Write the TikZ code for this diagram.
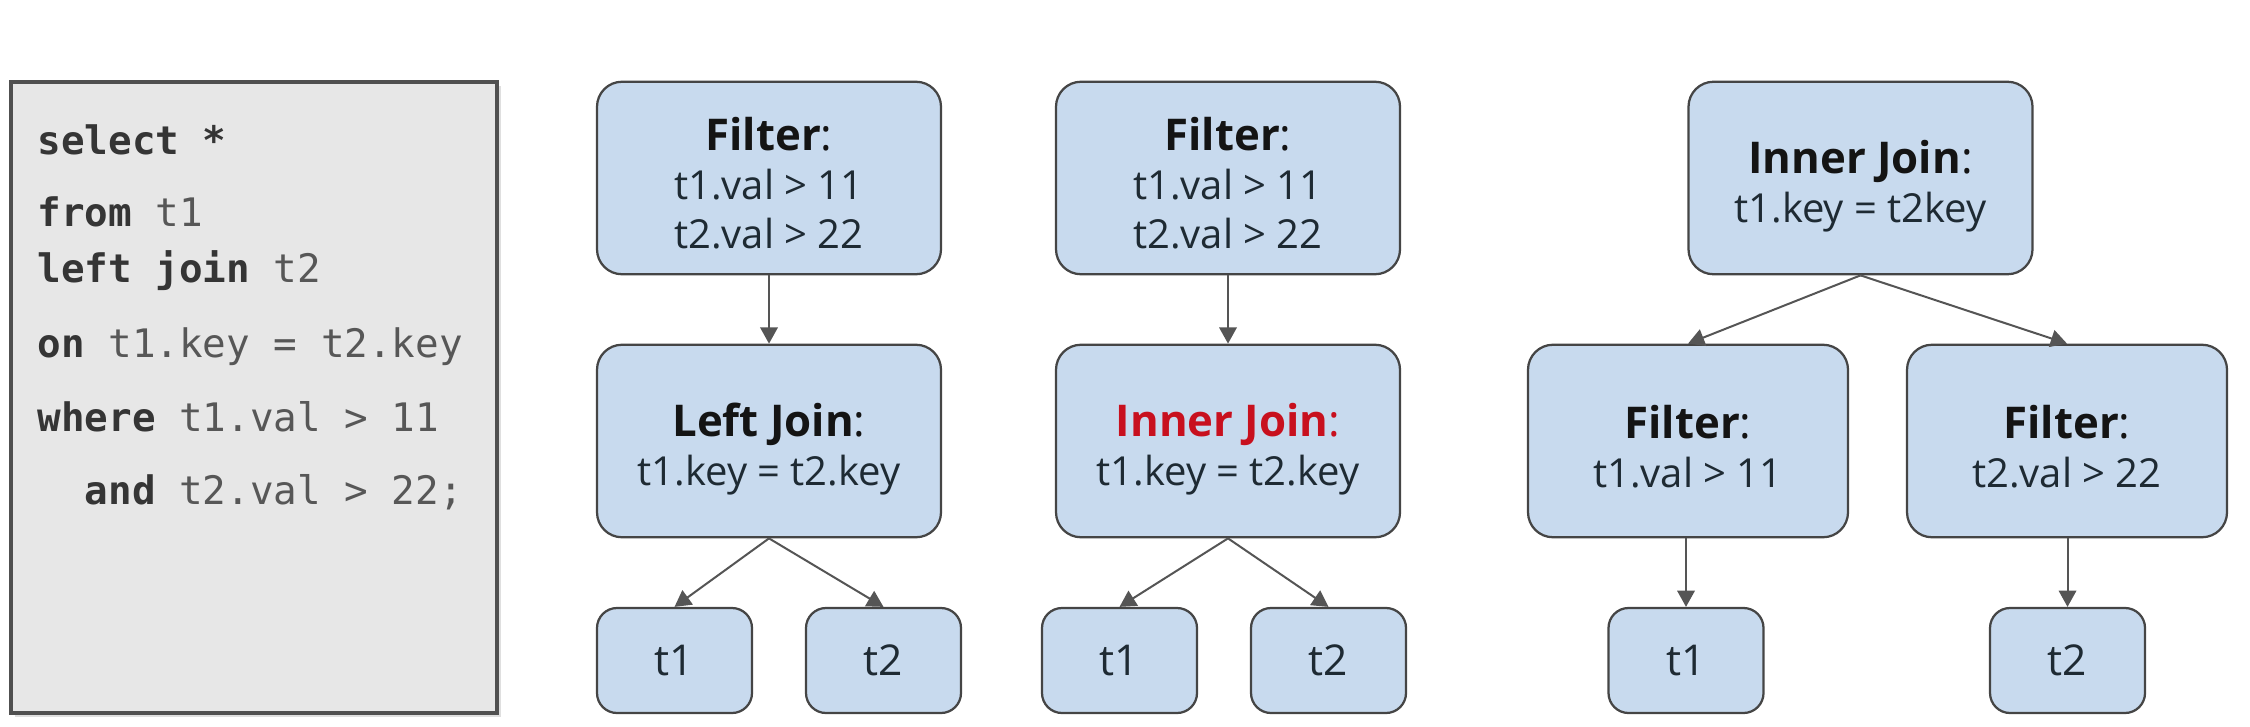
\documentclass[tikz,border=0pt]{standalone}
\usepackage{fontspec}
\setmainfont{Open Sans}
\newfontfamily\codefont{DejaVu Sans Mono}
\usetikzlibrary{arrows.meta,shadows}
\definecolor{boxfill}{HTML}{C8DAEE}
\definecolor{boxline}{HTML}{454545}
\definecolor{arrowcol}{HTML}{555555}
\definecolor{codefill}{HTML}{E7E7E7}
\definecolor{codeline}{HTML}{505050}
\definecolor{kwcol}{HTML}{353535}
\definecolor{idcol}{HTML}{575757}
\definecolor{redtxt}{HTML}{C8101E}
\definecolor{txtcol}{HTML}{1E2A33}
\definecolor{hdcol}{HTML}{141414}
\newcommand{\kw}[1]{{\bfseries\color{kwcol}#1}}
\newcommand{\hd}[1]{{\bfseries\fontsize{17.5}{19.6}\selectfont #1}{\fontsize{17.5}{19.6}\selectfont :}}
\tikzset{
  opbox/.style={draw=boxline, fill=boxfill, line width=0.9pt, rounded corners=10pt,
    minimum width=137.6pt, minimum height=77pt, inner sep=0pt},
  widebox/.style={opbox, minimum width=128pt},
  leafbox/.style={opbox, minimum width=62pt, minimum height=42pt, rounded corners=8pt,
    align=center, text=txtcol, font=\fontsize{17}{19.6}\selectfont},
  optext/.style={align=center, inner sep=0pt, yshift=-2.2pt, text=txtcol,
    font=\fontsize{16}{19.6}\selectfont},
  flow/.style={draw=arrowcol, line width=0.8pt, -{Triangle[length=6.5pt,width=7pt]}},
  codetxt/.style={anchor=base west, inner sep=0pt, text=idcol,
    font=\codefont\fontsize{15.7}{18}\selectfont}
}
\begin{document}
\begin{tikzpicture}[x=0.4pt,y=-0.4pt]
\useasboundingbox (0,0) rectangle (2250,726);
% code panel
\node[draw=codeline, fill=codefill, line width=1.3pt, minimum width=194.4pt, minimum height=252.4pt,
  inner sep=0pt, drop shadow={opacity=0.25, shadow xshift=1.5pt, shadow yshift=-1.5pt}] (code) at (254,397.5) {};
\node[codetxt] (c1) at (37,154) {\kw{select} \kw{*}};
\node[codetxt] (c2) at (37,226) {\kw{from} t1};
\node[codetxt] (c3) at (37,282) {\kw{left} \kw{join} t2};
\node[codetxt] (c4) at (37,357) {\kw{on} t1.key = t2.key};
\node[codetxt] (c5) at (37,431) {\kw{where} t1.val > 11};
\node[codetxt] (c6) at (37,504) {\ \ \kw{and} t2.val > 22;};
% tree 1
\node[opbox, label={[optext]center:{\color{hdcol}\hd{Filter}}\\t1.val > 11\\t2.val > 22}] (f1) at (769,178) {};
\node[opbox, label={[optext, yshift=-1pt]center:{\color{hdcol}\hd{Left Join}}\\t1.key = t2.key}] (j1) at (769,441) {};
\node[leafbox] (a1) at (674.5,660.5) {t1};
\node[leafbox] (b1) at (883.5,660.5) {t2};
\draw[flow] (f1) -- (j1);
\draw[flow] (j1.south) -- (a1.north);
\draw[flow] (j1.south) -- (b1.north);
% tree 2
\node[opbox, label={[optext]center:{\color{hdcol}\hd{Filter}}\\t1.val > 11\\t2.val > 22}] (f2) at (1228,178) {};
\node[opbox, label={[optext, yshift=-1pt]center:{\color{redtxt}\hd{Inner Join}}\\t1.key = t2.key}] (j2) at (1228,441) {};
\node[leafbox] (a2) at (1119.5,660.5) {t1};
\node[leafbox] (b2) at (1328.5,660.5) {t2};
\draw[flow] (f2) -- (j2);
\draw[flow] (j2.south) -- (a2.north);
\draw[flow] (j2.south) -- (b2.north);
% tree 3
\node[opbox, label={[optext, yshift=-1pt]center:{\color{hdcol}\hd{Inner Join}}\\t1.key = t2key}] (j3) at (1860.5,178) {};
\node[widebox, label={[optext]center:{\color{hdcol}\hd{Filter}}\\t1.val > 11}] (fl) at (1688,441) {};
\node[widebox, label={[optext]center:{\color{hdcol}\hd{Filter}}\\t2.val > 22}] (fr) at (2067,441) {};
\node[leafbox] (a3) at (1686,660.5) {t1};
\node[leafbox] (b3) at (2067.5,660.5) {t2};
\draw[flow] (j3.south) -- (fl.north);
\draw[flow] (j3.south) -- (fr.north);
\draw[flow] (fl.south -| a3.north) -- (a3.north);
\draw[flow] (fr.south -| b3.north) -- (b3.north);
\end{tikzpicture}
\end{document}
